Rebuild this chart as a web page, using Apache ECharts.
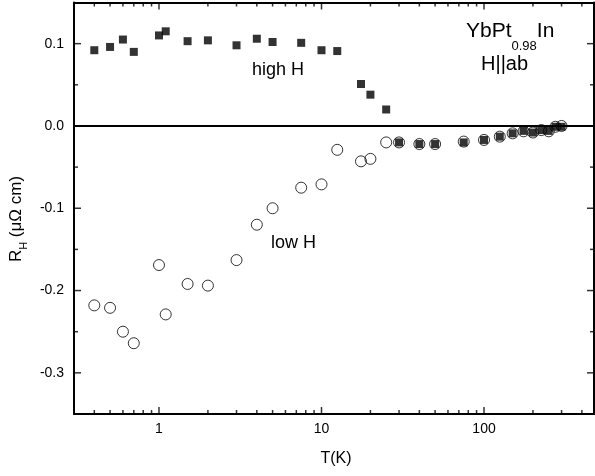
<!DOCTYPE html>
<html>
<head>
<meta charset="utf-8">
<script src="https://cdn.jsdelivr.net/npm/echarts@6/dist/echarts.min.js"></script>
<style>
html,body{margin:0;padding:0;background:#fff;overflow:hidden;}
#chart{width:595px;height:476px;}
</style>
</head>
<body>
<div id="chart"></div>
<script>
// ---- data ----
const T_high = [0.4,0.5,0.6,0.7,1,1.1,1.5,2,3,4,5,7.5,10,12.5,17.5,20,25,30,40,50,75,100,125,150,175,200,225,250,275,300];
const RH_high = [0.092,0.096,0.105,0.090,0.110,0.115,0.103,0.104,0.098,0.106,0.102,0.101,0.092,0.091,0.051,0.038,0.020,-0.020,-0.022,-0.022,-0.020,-0.017,-0.013,-0.009,-0.006,-0.008,-0.005,-0.006,-0.001,-0.001];
const T_low = [0.4,0.5,0.6,0.7,1,1.1,1.5,2,3,4,5,7.5,10,12.5,17.5,20,25,30,40,50,75,100,125,150,175,200,225,250,275,300];
const RH_low = [-0.218,-0.221,-0.250,-0.264,-0.169,-0.229,-0.192,-0.194,-0.163,-0.120,-0.100,-0.075,-0.071,-0.029,-0.043,-0.040,-0.020,-0.020,-0.022,-0.022,-0.019,-0.017,-0.013,-0.009,-0.0065,-0.008,-0.005,-0.0065,-0.001,0.0];

// axis tick positions
const xMajorTicks = [1,10,100];
const xMinorTicks = [0.4,0.5,0.6,0.7,0.8,0.9,2,3,4,5,6,7,8,9,20,30,40,50,60,70,80,90,200,300,400];
const yMajorTicks = [-0.3,-0.2,-0.1,0.0,0.1];
const yMinorTicks = [-0.25,-0.15,-0.05,0.05];
const xMin = 0.3, xMax = 475, yMin = -0.35, yMax = 0.15;

const FONT = 'Liberation Sans';
const BLACK = '#000';
const MAJOR_LEN = 7, MINOR_LEN = 4, TICK_W = 1.5;

// tick marks as tiny rect symbols placed on the axes by the library's scales
function xTicks(yVal, dir) {
  const mk = (v, len) => ({value: [v, yVal], symbolSize: [TICK_W, len], symbolOffset: [0, dir * len / 2]});
  return xMajorTicks.map(v => mk(v, MAJOR_LEN)).concat(xMinorTicks.map(v => mk(v, MINOR_LEN)));
}
function yTicks(xVal, dir) {
  const mk = (v, len) => ({value: [xVal, v], symbolSize: [len, TICK_W], symbolOffset: [dir * len / 2, 0]});
  return yMajorTicks.map(v => mk(v, MAJOR_LEN)).concat(yMinorTicks.map(v => mk(v, MINOR_LEN)));
}
function tickSeries(data) {
  return {type: 'scatter', data: data, symbol: 'rect', clip: false, silent: true,
          itemStyle: {color: BLACK}, z: 6};
}
function plainTitle(text, left, top, size) {
  return {text: text, left: left, top: top, padding: 0,
          textStyle: {fontSize: size, fontFamily: FONT, color: BLACK, fontWeight: 'normal'}};
}

const chart = echarts.init(document.getElementById('chart'));
const option = {
  animation: false,
  title: [
    {text: '{a|YbPt}{s|0.98}{a|In}', left: 466, top: 21, padding: 0,
     textStyle: {fontWeight: 'normal', color: BLACK, fontFamily: FONT, fontSize: 21,
       rich: {a: {fontSize: 21, fontFamily: FONT, color: BLACK, lineHeight: 24, verticalAlign: 'top'},
              s: {fontSize: 13, fontFamily: FONT, color: BLACK, lineHeight: 14, padding: [19, 0, 0, 0], verticalAlign: 'top'}}}},
    plainTitle('H||ab', 481, 54, 20),
    plainTitle('high H', 252, 61, 18),
    plainTitle('low H', 271, 234.5, 18),
    plainTitle('T(K)', 320.5, 450.5, 16)
  ],
  grid: {left: 74, right: 1, top: 2.5, bottom: 62, outerBoundsMode: 'none'},
  xAxis: [
    {type: 'log', min: xMin, max: xMax, position: 'bottom',
     axisLine: {show: true, onZero: false, lineStyle: {color: BLACK, width: 2}},
     axisTick: {show: false},
     axisLabel: {show: true, color: BLACK, fontSize: 14, fontFamily: FONT, margin: 8,
                 showMinLabel: false, showMaxLabel: false},
     splitLine: {show: false}},
    {type: 'log', min: xMin, max: xMax, position: 'top',
     axisLine: {show: true, onZero: false, lineStyle: {color: BLACK, width: 2}},
     axisTick: {show: false}, axisLabel: {show: false}, splitLine: {show: false}}
  ],
  yAxis: [
    {type: 'value', min: yMin, max: yMax,
     name: '{a|R}{s|H}{a| (μΩ cm)}', nameLocation: 'middle', nameRotate: 90, nameGap: 43,
     nameTextStyle: {padding: [0, 21.5, 0, 0],
       rich: {a: {fontSize: 17, fontFamily: FONT, color: BLACK, lineHeight: 20, verticalAlign: 'top'},
              s: {fontSize: 11, fontFamily: FONT, color: BLACK, lineHeight: 12, padding: [10, 0, 0, 0], verticalAlign: 'top'}}},
     axisLine: {show: true, onZero: false, lineStyle: {color: BLACK, width: 2}},
     axisTick: {show: false},
     axisLabel: {show: true, color: BLACK, fontSize: 14, fontFamily: FONT, margin: 10,
                 customValues: yMajorTicks, formatter: v => v.toFixed(1)},
     splitLine: {show: false}},
    {type: 'value', position: 'right', min: yMin, max: yMax,
     axisLine: {show: true, onZero: false, lineStyle: {color: BLACK, width: 2}},
     axisTick: {show: false}, axisLabel: {show: false}, splitLine: {show: false}}
  ],
  series: [
    {
      type: 'scatter',
      data: T_high.map((t, i) => [t, RH_high[i]]),
      symbol: 'rect', symbolSize: 8,
      itemStyle: {color: BLACK}
    },
    {
      type: 'scatter',
      data: T_low.map((t, i) => [t, RH_low[i]]),
      symbol: 'circle', symbolSize: 11,
      itemStyle: {color: 'rgba(255,255,255,0)', borderColor: BLACK, borderWidth: 1}
    },
    {
      type: 'line', data: [[xMin, 0], [xMax, 0]], symbol: 'none', showSymbol: false, silent: true,
      lineStyle: {color: BLACK, width: 2}
    },
    {
      type: 'line', data: [[xMax, yMin], [xMax, yMax]], symbol: 'none', showSymbol: false, silent: true,
      clip: false, lineStyle: {color: BLACK, width: 2}
    },
    tickSeries(xTicks(yMin, -1)),
    tickSeries(xTicks(yMax, 1)),
    tickSeries(yTicks(xMin, 1)),
    tickSeries(yTicks(xMax, -1))
  ]
};
chart.setOption(option);
</script>
</body>
</html>
